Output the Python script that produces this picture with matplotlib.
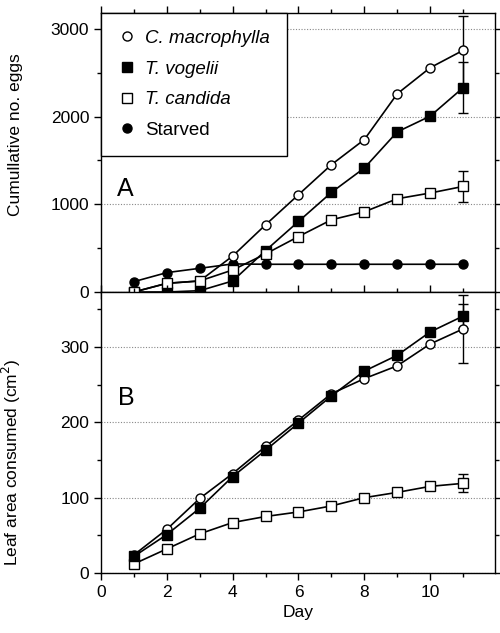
import numpy as np
import matplotlib.pyplot as plt
from matplotlib.ticker import MultipleLocator

plt.rcParams['font.family'] = ['Liberation Sans', 'DejaVu Sans']

days = np.arange(1, 12)

# panel A: cumulative eggs
eggs_macro = [0, 99, 126, 410, 766, 1109, 1451, 1737, 2259, 2556, 2754]
eggs_vog = [0, 0, 15, 126, 472, 804, 1135, 1413, 1825, 2004, 2328]
eggs_cand = [0, 99, 126, 251, 434, 632, 823, 914, 1063, 1128, 1203]
eggs_starved = [118, 221, 270, 320, 316, 316, 316, 316, 316, 316, 316]
eggs_err_day11 = {'macro': 392, 'vog': 290, 'cand': 180}

# panel B: leaf area consumed (cm2)
leaf_macro = [24, 58, 99, 132, 168, 203, 238, 258, 275, 304, 324]
leaf_vog = [22, 51, 86, 128, 163, 199, 235, 268, 289, 320, 341]
leaf_cand = [12, 32, 52, 67, 75, 81, 89, 100, 107, 115, 119]
leaf_err_day11 = {'macro': 45, 'vog': 16, 'cand': 12}

labels = ['C. macrophylla', 'T. vogelii', 'T. candida', 'Starved']
styles = {'C. macrophylla': ('o', 'white'), 'T. vogelii': ('s', 'black'),
          'T. candida': ('s', 'white'), 'Starved': ('o', 'black')}

fig = plt.figure(figsize=(5, 6.33), dpi=100)
axA = fig.add_axes([0.202, 0.5387, 0.788, 0.4408])
axB = fig.add_axes([0.202, 0.0948, 0.788, 0.4439], sharex=axA)

ms = 6.5
lw = 1.2


def series(ax, y, name, err=None):
    marker, face = styles[name]
    ax.plot(days, y, color='black', lw=lw, marker=marker, ms=ms,
            mfc=face, mec='black', mew=1.0, zorder=3)
    if err is not None:
        ax.errorbar([days[-1]], [y[-1]], yerr=[err], fmt='none',
                    ecolor='black', elinewidth=1.0, capsize=3.6,
                    capthick=1.0, zorder=2)


series(axA, eggs_starved, 'Starved')
series(axA, eggs_macro, 'C. macrophylla', eggs_err_day11['macro'])
series(axA, eggs_vog, 'T. vogelii', eggs_err_day11['vog'])
series(axA, eggs_cand, 'T. candida', eggs_err_day11['cand'])

series(axB, leaf_cand, 'T. candida', leaf_err_day11['cand'])
series(axB, leaf_macro, 'C. macrophylla', leaf_err_day11['macro'])
series(axB, leaf_vog, 'T. vogelii', leaf_err_day11['vog'])

axA.set_ylim(0, 3180)
axB.set_ylim(0, 373)
axA.set_xlim(0, 11.97)

axA.yaxis.set_major_locator(MultipleLocator(1000))
axA.yaxis.set_minor_locator(MultipleLocator(500))
axB.yaxis.set_major_locator(MultipleLocator(100))
axB.yaxis.set_minor_locator(MultipleLocator(50))
axB.xaxis.set_major_locator(MultipleLocator(2))
axB.xaxis.set_minor_locator(MultipleLocator(1))

for ax in (axA, axB):
    ax.grid(axis='y', which='major', color='#888888', ls=(0, (1, 1.5)), lw=0.8)
    ax.tick_params(which='both', direction='out', top=True, right=True,
                   labelsize=12.5, width=1.0)
    ax.tick_params(which='major', length=5)
    ax.tick_params(which='minor', length=3)
    for s in ax.spines.values():
        s.set_linewidth(1.0)

axA.tick_params(labelbottom=False)

axA.set_ylabel('Cumullative no. eggs', fontsize=12.5)
axA.yaxis.set_label_coords(-0.198, 0.563)
axB.set_ylabel('Leaf area consumed (cm$^2$)', fontsize=12.5)
axB.yaxis.set_label_coords(-0.198, 0.395)
axB.set_xlabel('Day', fontsize=12.5)

axA.text(0.062, 0.369, 'A', transform=axA.transAxes, fontsize=18,
         ha='center', va='center')
axB.text(0.063, 0.623, 'B', transform=axB.transAxes, fontsize=18,
         ha='center', va='center')

hs = [plt.Line2D([], [], ls='none', marker=styles[n][0], ms=ms,
                 mfc=styles[n][1], mec='black', mew=1.0) for n in labels]
leg = axA.legend(hs, labels, loc='upper left', borderaxespad=0,
                 fancybox=False, framealpha=1, edgecolor='black',
                 fontsize=13.5, handlelength=1.0, handletextpad=0.45,
                 labelspacing=0.72, borderpad=0.9)
leg.get_frame().set_linewidth(1.0)
for t in leg.get_texts()[:3]:
    t.set_fontstyle('italic')

fig.savefig('out.png', dpi=100)
